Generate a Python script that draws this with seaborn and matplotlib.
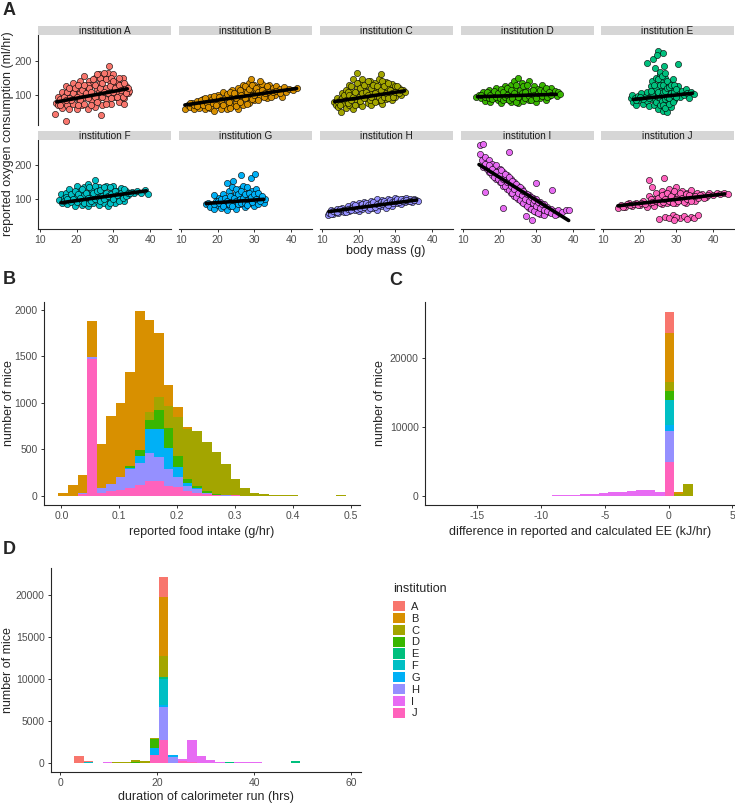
import numpy as np
import pandas as pd
import seaborn as sns
import matplotlib.pyplot as plt
from matplotlib.patches import Patch

institutions = list("ABCDEFGHIJ")
inst_colors = ["#F8766D", "#D89000", "#A3A500", "#39B600", "#00BF7D",
               "#00BFC4", "#00B0F6", "#9590FF", "#E76BF3", "#FF62BC"]

pts_A = [(14.0, 45), (14.5, 78), (15.0, 70), (15.0, 95), (15.5, 88), (16.0, 62), (16.0, 110), (16.5, 80),
         (17.0, 100), (17.0, 125), (17.2, 25), (17.5, 70), (18.0, 90), (18.0, 58), (18.5, 115), (19.0, 135),
         (19.0, 75), (19.5, 100), (20.0, 60), (20.0, 120), (20.5, 88), (21.0, 140), (21.0, 105), (21.5, 70),
         (22.0, 155), (22.0, 95), (22.5, 125), (23.0, 60), (23.0, 110), (23.5, 140), (24.0, 85), (24.0, 130),
         (24.5, 100), (25.0, 150), (25.0, 65), (25.5, 118), (26.0, 90), (26.0, 160), (26.6, 42), (26.5, 135),
         (27.0, 105), (27.0, 70), (27.5, 150), (28.0, 120), (28.0, 88), (28.5, 165), (28.8, 185), (29.0, 100),
         (29.0, 140), (29.5, 75), (30.0, 125), (30.0, 160), (30.5, 95), (31.0, 140), (31.0, 110), (31.5, 80),
         (32.0, 130), (32.0, 100), (32.5, 150), (33.0, 115), (33.0, 90), (33.5, 125), (34.0, 105), (34.2, 112),
         (32.8, 75)]
pts_B = [(11.2, 58), (12.0, 72), (12.5, 65), (13.0, 78), (13.5, 60), (14.0, 70), (14.5, 82), (15.0, 62),
         (15.5, 75), (16.0, 88), (16.5, 58), (17.0, 70), (17.5, 85), (18.0, 95), (18.0, 62), (18.5, 78),
         (19.0, 55), (19.5, 90), (20.0, 70), (20.0, 100), (20.5, 82), (21.0, 60), (21.5, 108), (22.0, 92),
         (22.0, 72), (22.5, 58), (23.0, 100), (23.5, 85), (24.0, 115), (24.0, 68), (24.5, 95), (25.0, 78),
         (25.5, 120), (25.5, 60), (26.0, 105), (26.5, 88), (27.0, 128), (27.0, 70), (27.5, 112), (28.0, 95),
         (28.5, 135), (28.5, 78), (29.0, 145), (29.0, 118), (29.5, 100), (30.0, 130), (30.0, 85), (30.5, 110),
         (31.0, 122), (31.5, 95), (32.0, 132), (32.5, 108), (33.0, 118), (33.5, 90), (34.0, 128), (34.5, 105),
         (35.0, 120), (35.5, 100), (36.0, 125), (36.5, 112), (37.0, 118), (37.5, 95), (38.0, 122), (38.5, 110),
         (39.5, 118), (40.5, 114), (41.5, 120)]
pts_C = [(13.3, 80), (13.8, 70), (14.0, 92), (14.5, 65), (15.0, 85), (15.3, 50), (15.5, 105), (16.0, 75),
         (16.5, 115), (16.5, 62), (17.0, 95), (17.5, 130), (17.5, 72), (18.0, 110), (18.5, 60), (18.5, 145),
         (19.0, 88), (19.5, 120), (19.7, 163), (20.0, 75), (20.0, 135), (20.5, 100), (21.0, 145), (21.0, 68),
         (21.5, 115), (22.0, 90), (22.0, 130), (22.5, 78), (23.0, 140), (23.0, 105), (23.5, 70), (24.0, 120),
         (24.0, 95), (24.5, 135), (25.0, 82), (25.0, 110), (25.5, 145), (26.0, 161), (26.0, 98), (26.5, 125),
         (26.5, 75), (27.0, 110), (27.5, 138), (27.5, 88), (28.0, 120), (28.5, 100), (29.0, 132), (29.0, 85),
         (29.5, 115), (30.0, 125), (30.0, 95), (30.5, 108), (31.0, 120), (31.5, 100), (32.0, 115), (32.5, 108)]
pts_D = [(13.7, 95), (14.5, 100), (15.0, 90), (15.5, 108), (16.0, 84), (16.5, 98), (17.0, 115), (17.5, 80),
         (18.0, 105), (18.5, 92), (19.0, 120), (19.5, 85), (20.0, 110), (20.5, 78), (21.0, 98), (21.5, 125),
         (22.0, 88), (22.5, 112), (23.0, 80), (23.0, 130), (23.5, 100), (24.0, 140), (24.0, 88), (24.5, 118),
         (25.0, 78), (25.0, 148), (25.5, 105), (26.0, 135), (26.0, 92), (26.5, 82), (27.0, 120), (27.5, 100),
         (28.0, 140), (28.0, 86), (28.5, 112), (29.0, 95), (29.5, 125), (30.0, 80), (30.0, 108), (30.5, 118),
         (31.0, 92), (31.5, 128), (32.0, 102), (32.5, 86), (33.0, 115), (33.5, 98), (34.0, 120), (34.5, 105),
         (35.0, 112), (35.5, 96), (36.0, 108), (36.5, 104)]
pts_E = [(17.7, 90), (18.0, 100), (18.3, 80), (18.8, 92), (19.0, 72), (19.5, 98), (20.0, 85), (20.5, 105),
         (21.0, 75), (21.5, 95), (22.0, 110), (22.0, 82), (22.5, 68), (23.0, 100), (23.0, 125), (23.5, 88),
         (23.5, 140), (24.0, 70), (24.0, 112), (24.5, 150), (24.5, 95), (25.0, 60), (25.0, 130), (25.0, 80),
         (25.5, 160), (25.5, 105), (26.0, 72), (26.0, 140), (26.0, 118), (26.5, 90), (26.5, 55), (27.0, 125),
         (27.0, 150), (27.0, 100), (27.5, 50), (27.5, 80), (28.0, 135), (28.0, 110), (28.5, 65), (28.5, 95),
         (29.0, 120), (29.0, 145), (29.5, 85), (30.0, 108), (30.5, 125), (31.0, 95), (31.5, 112), (32.0, 100),
         (32.5, 118), (33.0, 105), (33.5, 92), (34.0, 110), (34.7, 104), (22.0, 194), (23.6, 204), (24.3, 178),
         (25.0, 229), (25.6, 168), (26.3, 223), (26.7, 183), (30.5, 189), (24.8, 215)]
pts_F = [(15.2, 98), (15.8, 115), (16.0, 88), (16.5, 105), (17.0, 120), (17.5, 85), (18.0, 130), (18.0, 100),
         (18.5, 92), (19.0, 115), (19.5, 80), (20.0, 108), (20.0, 140), (20.5, 95), (21.0, 125), (21.5, 82),
         (22.0, 112), (22.0, 135), (22.5, 98), (23.0, 145), (23.0, 80), (23.5, 118), (24.0, 105), (24.0, 130),
         (24.5, 88), (25.0, 158), (25.0, 115), (25.5, 95), (26.0, 135), (26.0, 82), (26.5, 110), (27.0, 125),
         (27.5, 90), (28.0, 140), (28.0, 105), (28.5, 80), (29.0, 120), (29.5, 98), (30.0, 138), (30.0, 110),
         (30.5, 88), (31.0, 125), (31.5, 105), (32.0, 132), (32.5, 115), (33.0, 95), (33.5, 125), (34.0, 112),
         (35.0, 122), (35.5, 118), (36.5, 125), (37.5, 118), (38.5, 126), (39.5, 116)]
pts_G = [(16.9, 86), (17.5, 90), (18.0, 78), (18.9, 113), (19.0, 72), (19.5, 95), (20.0, 82), (20.5, 105),
         (21.0, 75), (21.5, 115), (22.0, 90), (22.5, 147), (22.5, 70), (23.0, 125), (23.0, 100), (23.5, 80),
         (24.0, 135), (24.2, 153), (24.0, 110), (24.5, 92), (25.0, 72), (25.0, 120), (25.5, 100), (26.0, 85),
         (26.3, 172), (26.0, 130), (26.5, 110), (27.0, 95), (27.0, 140), (27.5, 78), (28.0, 118), (28.1, 137),
         (28.5, 100), (29.0, 164), (29.0, 88), (29.5, 125), (30.0, 105), (30.2, 173), (30.0, 80), (30.5, 130),
         (31.0, 95), (31.5, 110), (32.0, 100), (32.5, 90), (33.0, 102)]
pts_H = [(11.6, 54), (12.0, 60), (12.5, 68), (13.0, 58), (13.5, 64), (14.0, 72), (14.5, 60), (15.0, 67),
         (15.5, 75), (16.0, 62), (16.5, 70), (17.0, 80), (17.5, 65), (18.0, 75), (18.5, 85), (19.0, 68),
         (19.5, 78), (20.0, 90), (20.0, 65), (20.5, 82), (21.0, 72), (21.5, 92), (22.0, 78), (22.5, 68),
         (23.0, 88), (23.5, 95), (24.0, 75), (24.5, 85), (25.0, 100), (25.0, 70), (25.5, 90), (26.0, 80),
         (26.5, 98), (27.0, 88), (27.5, 75), (28.0, 102), (28.5, 90), (29.0, 80), (29.5, 95), (30.0, 105),
         (30.5, 88), (31.0, 98), (31.5, 85), (32.0, 100), (32.5, 92), (33.0, 105), (33.5, 95), (34.0, 100),
         (34.5, 92), (35.0, 102), (35.5, 97), (36.3, 96)]
pts_I = [(14.6, 258), (15.5, 261), (14.6, 234), (15.2, 215), (15.9, 122), (15.5, 195), (16.0, 225), (16.5, 205),
         (17.0, 180), (17.0, 215), (17.5, 195), (18.0, 170), (18.0, 205), (18.5, 185), (19.0, 160), (19.0, 200),
         (19.5, 175), (20.0, 150), (20.0, 190), (20.8, 74), (20.5, 165), (21.0, 140), (21.0, 180), (21.5, 155),
         (22.0, 130), (22.0, 170), (22.6, 240), (22.5, 145), (23.0, 120), (23.0, 160), (23.5, 135), (24.0, 110),
         (24.0, 150), (24.5, 125), (25.0, 100), (25.0, 140), (25.5, 115), (26.0, 92), (26.0, 130), (26.5, 105),
         (27.0, 85), (27.1, 51), (27.0, 120), (27.5, 98), (28.0, 75), (28.0, 112), (28.5, 90), (28.9, 40),
         (29.0, 70), (29.8, 147), (29.0, 105), (29.5, 82), (30.0, 62), (30.0, 100), (30.5, 78), (31.0, 58),
         (31.0, 92), (31.5, 72), (32.0, 85), (32.0, 55), (32.5, 68), (33.0, 78), (33.5, 62), (34.3, 127),
         (34.0, 72), (35.0, 65), (35.5, 58), (36.0, 70), (37.0, 62), (38.0, 68), (38.8, 69)]
pts_J = [(14.0, 75), (15.0, 82), (16.0, 78), (17.0, 88), (18.0, 80), (19.0, 90), (20.0, 84), (21.0, 95),
         (22.0, 78), (22.6, 156), (22.5, 110), (23.0, 90), (23.5, 135), (24.0, 100), (24.0, 80), (24.5, 120),
         (25.0, 92), (25.3, 42), (25.5, 108), (26.0, 85), (26.0, 125), (26.5, 98), (26.7, 164), (27.0, 115),
         (27.0, 48), (27.5, 88), (28.0, 130), (28.0, 105), (28.5, 92), (29.0, 118), (29.0, 55), (29.5, 100),
         (30.0, 135), (30.0, 88), (30.5, 112), (31.0, 98), (31.0, 45), (31.5, 125), (32.0, 105), (32.0, 52),
         (32.5, 90), (33.0, 118), (33.5, 100), (34.0, 128), (34.0, 48), (34.7, 45), (34.5, 110), (35.0, 95),
         (35.5, 120), (36.0, 105), (36.0, 55), (37.0, 115), (38.0, 108), (39.0, 118), (40.0, 112), (41.0, 120),
         (42.0, 115), (43.0, 118), (44.0, 116)]

# dense cores of the clouds
core_A = [(15.5, 72), (16.5, 95), (17.5, 110), (18.5, 85), (19.0, 105), (19.5, 120), (20.0, 95), (20.5, 130),
          (21.0, 85), (21.5, 115), (22.0, 75), (22.5, 105), (23.0, 130), (23.0, 90), (23.5, 120), (24.0, 70),
          (24.0, 110), (24.5, 145), (25.0, 95), (25.0, 130), (25.5, 80), (26.0, 110), (26.5, 150), (26.5, 120),
          (27.0, 95), (27.0, 135), (27.5, 110), (28.0, 75), (28.0, 145), (28.5, 105), (29.0, 125), (29.5, 150),
          (29.5, 90), (30.0, 110), (30.0, 140), (30.5, 120), (31.0, 95), (31.5, 130), (31.5, 150), (32.0, 115),
          (32.5, 95), (33.0, 135), (33.5, 105), (34.0, 120), (22.0, 130), (18.0, 120), (17.0, 85), (20.5, 70),
          (25.5, 160), (27.5, 165)]
core_B = [(12.5, 78), (13.5, 72), (14.5, 68), (15.5, 85), (16.0, 70), (16.5, 92), (17.0, 78), (17.5, 65),
          (18.5, 88), (19.0, 98), (19.5, 70), (20.5, 95), (21.0, 85), (21.5, 70), (22.5, 102), (23.0, 80),
          (23.5, 110), (23.5, 62), (24.5, 105), (25.0, 90), (25.0, 68), (26.0, 115), (26.0, 80), (26.5, 100),
          (27.5, 90), (27.5, 125), (28.0, 108), (28.0, 75), (28.5, 118), (29.5, 130), (29.5, 88), (30.0, 100),
          (30.5, 120), (31.0, 108), (31.0, 85), (31.5, 140), (32.0, 115), (32.5, 95), (33.0, 105), (33.5, 125),
          (34.0, 110), (34.5, 95), (35.0, 108), (36.0, 112), (37.0, 105)]
core_C = [(14.5, 80), (15.0, 70), (15.5, 92), (16.0, 100), (16.5, 85), (17.0, 78), (17.0, 110), (17.5, 100),
          (18.0, 85), (18.0, 125), (18.5, 95), (19.0, 110), (19.0, 70), (19.5, 135), (20.0, 95), (20.5, 120),
          (20.5, 82), (21.0, 105), (21.5, 130), (21.5, 90), (22.0, 110), (22.5, 140), (22.5, 100), (23.0, 85),
          (23.5, 120), (23.5, 95), (24.0, 130), (24.5, 105), (24.5, 80), (25.0, 125), (25.5, 95), (26.0, 115),
          (26.0, 85), (26.5, 140), (27.0, 95), (27.0, 125), (27.5, 105), (28.0, 90), (28.0, 135), (28.5, 115),
          (29.0, 105), (29.5, 95), (30.0, 110), (30.5, 125), (31.0, 105), (31.5, 115)]
core_D = [(15.0, 100), (16.0, 95), (16.5, 108), (17.0, 90), (17.5, 100), (18.0, 88), (18.5, 112), (19.0, 95),
          (19.5, 105), (20.0, 90), (20.5, 118), (21.0, 85), (21.0, 110), (21.5, 95), (22.0, 120), (22.0, 100),
          (22.5, 85), (23.0, 115), (23.5, 92), (24.0, 105), (24.5, 80), (24.5, 128), (25.0, 95), (25.5, 115),
          (26.0, 105), (26.5, 125), (27.0, 90), (27.0, 110), (27.5, 130), (28.0, 98), (28.5, 85), (29.0, 115),
          (29.5, 100), (30.0, 92), (30.5, 105), (31.0, 115), (31.5, 98), (32.0, 112), (32.5, 120), (33.0, 95),
          (33.5, 108), (34.0, 100)]
core_E = [(24.0, 90), (24.5, 80), (24.5, 120), (25.0, 95), (25.0, 145), (25.0, 110), (25.5, 70), (25.5, 90),
          (25.5, 130), (26.0, 100), (26.0, 155), (26.0, 82), (26.5, 110), (26.5, 130), (26.5, 70), (27.0, 88),
          (27.0, 112), (27.0, 62), (27.5, 95), (27.5, 120), (27.5, 140), (28.0, 90), (28.0, 75), (28.0, 122),
          (28.5, 105), (28.5, 130), (29.0, 100), (29.0, 80), (29.5, 110), (29.5, 130), (30.0, 95), (30.0, 118),
          (23.5, 100), (23.0, 112), (22.5, 90), (21.0, 88), (20.0, 95), (19.0, 85), (24.0, 130), (26.8, 165)]
core_F = [(16.5, 95), (17.0, 108), (17.5, 100), (18.5, 115), (19.0, 100), (19.5, 125), (20.0, 92), (20.5, 115),
          (21.0, 105), (21.5, 130), (21.5, 95), (22.0, 88), (22.5, 120), (23.0, 105), (23.5, 90), (23.5, 135),
          (24.0, 95), (24.5, 120), (25.0, 100), (25.0, 138), (25.5, 125), (26.0, 105), (26.5, 95), (26.5, 128),
          (27.0, 110), (27.5, 135), (27.5, 100), (28.0, 120), (28.5, 110), (29.0, 90), (29.0, 135), (29.5, 115),
          (30.0, 100), (30.5, 125), (31.0, 112), (31.5, 95), (32.0, 120), (32.5, 105), (33.0, 130), (33.5, 110),
          (34.0, 120), (34.5, 118)]
core_G = [(19.0, 85), (20.0, 95), (20.5, 88), (21.0, 100), (21.5, 80), (22.0, 105), (22.5, 95), (23.0, 85),
          (23.5, 110), (24.0, 80), (24.5, 105), (25.0, 95), (25.0, 130), (25.5, 85), (25.5, 115), (26.0, 100),
          (26.5, 90), (26.5, 125), (27.0, 105), (27.5, 115), (27.5, 90), (28.0, 98), (28.0, 82), (28.5, 120),
          (29.0, 108), (29.5, 92), (30.0, 115), (30.5, 100), (31.0, 120), (31.0, 85), (31.5, 95), (32.0, 110)]
core_H = [(12.5, 58), (13.0, 66), (14.0, 62), (15.0, 72), (16.0, 70), (16.5, 64), (17.0, 72), (18.0, 68),
          (18.5, 78), (19.0, 82), (19.5, 72), (20.5, 75), (21.0, 85), (21.5, 78), (22.0, 88), (22.5, 82),
          (23.0, 75), (23.5, 85), (24.0, 92), (24.5, 78), (25.0, 85), (25.5, 82), (26.0, 92), (26.5, 85),
          (27.0, 95), (27.5, 88), (28.0, 82), (28.5, 98), (29.0, 92), (29.5, 88), (30.0, 95), (30.5, 100),
          (31.0, 92), (31.5, 102), (32.0, 95), (33.0, 98), (34.0, 95), (35.0, 98)]
core_I = [(16.0, 205), (16.5, 190), (17.0, 200), (17.5, 180), (18.0, 190), (18.5, 165), (19.0, 180), (19.5, 160),
          (20.0, 170), (20.5, 150), (20.5, 185), (21.0, 160), (21.5, 140), (21.5, 175), (22.0, 150), (22.5, 128),
          (22.5, 165), (23.0, 140), (23.5, 118), (23.5, 155), (24.0, 130), (24.5, 108), (24.5, 145), (25.0, 120),
          (25.5, 98), (25.5, 135), (26.0, 112), (26.5, 88), (26.5, 125), (27.0, 102), (27.5, 80), (27.5, 115),
          (28.0, 95), (28.5, 72), (28.5, 108), (29.0, 88), (29.5, 65), (29.5, 98), (30.0, 80), (30.5, 92),
          (30.5, 60), (31.0, 75), (31.5, 85), (32.0, 68), (33.0, 65), (34.0, 60), (35.0, 55)]
core_J = [(15.5, 78), (16.5, 85), (17.5, 82), (18.5, 85), (19.5, 82), (20.5, 90), (21.5, 85), (23.0, 100),
          (23.5, 92), (24.5, 95), (25.0, 105), (25.5, 88), (26.0, 112), (26.5, 92), (27.0, 100), (27.5, 118),
          (28.0, 95), (28.5, 110), (29.0, 90), (29.5, 125), (30.0, 100), (30.5, 95), (31.0, 118), (31.5, 105),
          (32.0, 92), (32.5, 115), (33.0, 100), (33.5, 112), (34.0, 95), (35.0, 110), (36.5, 112), (37.5, 105),
          (38.5, 112), (30.0, 48), (28.0, 45), (33.0, 42), (29.5, 40)]

scatter_pts = [pts_A + core_A, pts_B + core_B, pts_C + core_C, pts_D + core_D, pts_E + core_E,
               pts_F + core_F, pts_G + core_G, pts_H + core_H, pts_I + core_I, pts_J + core_J]

# linear fits (start/end of each black line)
fit_mass0 = [14.6, 11.1, 13.5, 14.0, 18.3, 15.8, 16.9, 11.9, 14.4, 14.1]
fit_vo2_0 = [80, 71, 81, 95, 87, 90, 88, 64, 202, 81]
fit_mass1 = [33.8, 41.5, 32.5, 35.4, 34.4, 39.0, 32.6, 35.8, 38.8, 43.2]
fit_vo2_1 = [118, 119, 112, 102, 105, 125, 100, 98, 38, 116]

# panel B: food intake histogram, 30 bins
food_start, food_width = -0.0052, 0.01655
food_counts = {
    "A": [0] * 30,
    "B": [35, 114, 190, 384, 464, 736, 793, 1002, 1491, 986, 691, 221, 107, 28] + [0] * 16,
    "C": [0] * 9 + [81, 142, 238, 416, 534, 594, 530, 455, 335, 170, 80, 34, 22, 12, 8, 5, 3, 2, 1, 2, 8],
    "D": [0, 0, 0, 0, 0, 0, 0, 30, 64, 107, 199, 214, 117, 36, 25, 15, 5, 3] + [0] * 12,
    "E": [0] * 30,
    "F": [0] * 30,
    "G": [0, 0, 0, 0, 0, 0, 0, 10, 71, 249, 303, 224, 107, 35, 11, 5, 3] + [0] * 13,
    "H": [0, 0, 10, 25, 60, 79, 143, 200, 239, 306, 259, 185, 107, 54, 43, 15, 5, 5, 4] + [0] * 11,
    "I": [0] * 30,
    "J": [0, 0, 20, 1470, 28, 46, 60, 85, 117, 157, 157, 107, 96, 53, 28, 15, 5, 2, 4] + [0] * 11,
}

# panel C: difference in EE, 30 bins
ee_start, ee_width = -18.0, 0.737
ee_counts = {
    "A": [0] * 24 + [3140, 0, 0, 0, 0, 0],
    "B": [0] * 24 + [7150, 200, 0, 0, 0, 0],
    "C": [0] * 24 + [1300, 350, 1690, 40, 5, 5],
    "D": [0] * 24 + [1210, 0, 0, 0, 0, 0],
    "E": [0] * 30,
    "F": [0] * 24 + [3620, 0, 0, 0, 0, 0],
    "G": [0] * 24 + [970, 0, 0, 0, 0, 0],
    "H": [0] * 24 + [4490, 0, 0, 0, 0, 0],
    "I": [3, 3, 3, 3, 5, 5, 5, 8, 8, 10, 15, 60, 100, 140, 190, 250, 330, 420, 530, 650, 760, 930, 850, 630,
          0, 0, 0, 0, 0, 0],
    "J": [0] * 24 + [4930, 0, 0, 0, 0, 0],
}

# panel D: duration of run, 30 bins
dur_start, dur_width = 0.985, 1.937
dur_counts = {
    "A": [0, 850, 100, 0, 0, 0, 0, 0, 0, 0, 2310] + [0] * 19,
    "B": [0, 0, 0, 0, 0, 0, 0, 0, 50, 0, 7070] + [0] * 19,
    "C": [0, 0, 0, 0, 0, 50, 120, 250, 150, 80, 2590] + [0] * 19,
    "D": [0, 0, 0, 0, 0, 0, 0, 100, 0, 1110, 0] + [0] * 19,
    "E": [0] * 10 + [240, 0, 0, 0, 0, 0, 0, 80, 0, 0, 0, 0, 0, 0, 150, 0, 0, 0, 0, 0],
    "F": [0, 0, 60, 0, 0, 0, 0, 0, 0, 0, 2990, 0, 0, 0, 0, 0, 60] + [0] * 13,
    "G": [0] * 9 + [800, 280, 260] + [0] * 18,
    "H": [0] * 10 + [3920, 700] + [0] * 18,
    "I": [0, 0, 0, 0, 60, 0, 0, 0, 0, 0, 0, 0, 200, 2600, 800, 280, 60, 0, 40, 40, 40, 20, 20, 20,
          0, 0, 0, 0, 5, 5],
    "J": [0] * 9 + [960, 2750, 0, 200, 70] + [0] * 16,
}

sns.set_style("ticks")
plt.rcParams["font.family"] = ["Liberation Sans", "DejaVu Sans"]
plt.rcParams["axes.unicode_minus"] = False
plt.rcParams["axes.linewidth"] = 0.8
plt.rcParams["xtick.color"] = "#333333"
plt.rcParams["ytick.color"] = "#333333"
plt.rcParams["xtick.labelcolor"] = "#4D4D4D"
plt.rcParams["ytick.labelcolor"] = "#4D4D4D"
plt.rcParams["xtick.major.size"] = 2.5
plt.rcParams["ytick.major.size"] = 2.5
plt.rcParams["xtick.major.width"] = 0.7
plt.rcParams["ytick.major.width"] = 0.7

W, H = 735, 805
fig = plt.figure(figsize=(W / 100, H / 100), dpi=100)


def add_ax(left, top, right, bottom):
    return fig.add_axes([left / W, 1 - bottom / H, (right - left) / W, (bottom - top) / H])


def style(ax):
    sns.despine(ax=ax)
    ax.tick_params(labelsize=7.5, pad=2)


def place_labels(ax, left, right, top, bottom, ylab_x, xlab_y):
    # put axis titles at given pixel positions
    ax.yaxis.set_label_coords((ylab_x - left) / (right - left), 0.5)
    ax.xaxis.set_label_coords(0.5, (bottom - xlab_y) / (bottom - top))
    ax.xaxis.label.set_va("center")
    ax.yaxis.label.set_va("center")


# ---- panel A ----
col_left = [38, 179, 320, 461, 601]
row_top = [35, 140]
row_bot = [125, 229]
strip_h = 8.5
for i, inst in enumerate(institutions):
    r, c = divmod(i, 5)
    l, t, b = col_left[c], row_top[r], row_bot[r]
    rt = l + 133
    ax = add_ax(l, t, rt, b)
    sax = add_ax(l, t - strip_h, rt, t)
    sax.set_facecolor("#D6D6D6")
    sax.set_xticks([])
    sax.set_yticks([])
    for sp in sax.spines.values():
        sp.set_visible(False)
    sax.text(0.5, 0.45, f"institution {inst}", ha="center", va="center", fontsize=7.2, color="#1A1A1A",
             transform=sax.transAxes)

    df = pd.DataFrame(scatter_pts[i], columns=["mass", "vo2"])
    sns.scatterplot(data=df, x="mass", y="vo2", color=inst_colors[i], edgecolor="black",
                    linewidth=0.4, s=20, ax=ax, legend=False, zorder=2)
    line = pd.DataFrame({"mass": [fit_mass0[i], fit_mass1[i]], "vo2": [fit_vo2_0[i], fit_vo2_1[i]]})
    sns.lineplot(data=line, x="mass", y="vo2", color="black", linewidth=2.6, ax=ax, zorder=3)
    ax.set_xlim(9.5, 45.7)
    ax.set_ylim(13, 274)
    ax.set_xticks([10, 20, 30, 40])
    ax.set_yticks([100, 200])
    ax.set_xlabel("")
    ax.set_ylabel("")
    style(ax)
    if r == 0:
        ax.spines["bottom"].set_visible(False)
        ax.tick_params(axis="x", bottom=False, labelbottom=False)
    if c > 0:
        ax.spines["left"].set_visible(False)
        ax.tick_params(axis="y", left=False, labelleft=False)

fig.text(8 / W, 1 - 134 / H, "reported oxygen consumption (ml/hr)", rotation=90, ha="center", va="center",
         fontsize=9)
fig.text(386 / W, 1 - 251 / H, "body mass (g)", ha="center", va="center", fontsize=9)


def stacked_hist(ax, counts, start, width):
    edges = start + width * np.arange(31)
    centers = (edges[:-1] + edges[1:]) / 2
    rows = []
    for inst in institutions:
        for x, n in zip(centers, counts[inst]):
            rows.append((inst, x, n))
    df = pd.DataFrame(rows, columns=["institution", "value", "count"])
    sns.histplot(data=df, x="value", weights="count", hue="institution", hue_order=institutions,
                 palette=inst_colors, multiple="stack", bins=edges.tolist(), alpha=1, linewidth=0,
                 legend=False, ax=ax)


# ---- panel B ----
axB = add_ax(44, 302, 360, 505)
stacked_hist(axB, food_counts, food_start, food_width)
axB.set_xlim(-0.030, 0.516)
axB.set_ylim(-99, 2081)
axB.set_xticks([0.0, 0.1, 0.2, 0.3, 0.4, 0.5])
axB.set_xticklabels(["0.0", "0.1", "0.2", "0.3", "0.4", "0.5"])
axB.set_yticks([0, 500, 1000, 1500, 2000])
axB.set_xlabel("reported food intake (g/hr)", fontsize=9)
axB.set_ylabel("number of mice", fontsize=9)
style(axB)
place_labels(axB, 44, 360, 302, 505, 9, 532)

# ---- panel C ----
axC = add_ax(425, 302, 735, 505)
stacked_hist(axC, ee_counts, ee_start, ee_width)
axC.set_xlim(-19.1, 5.2)
axC.set_ylim(-1300, 28200)
axC.set_xticks([-15, -10, -5, 0, 5])
axC.set_yticks([0, 10000, 20000])
axC.set_xlabel("difference in reported and calculated EE (kJ/hr)", fontsize=9)
axC.set_ylabel("number of mice", fontsize=9)
style(axC)
place_labels(axC, 425, 735, 302, 505, 380, 532)

# ---- panel D ----
axD = add_ax(51, 568, 361, 772)
stacked_hist(axD, dur_counts, dur_start, dur_width)
axD.set_xlim(-1.92, 62.0)
axD.set_ylim(-1110, 23250)
axD.set_xticks([0, 20, 40, 60])
axD.set_yticks([0, 5000, 10000, 15000, 20000])
axD.set_xlabel("duration of calorimeter run (hrs)", fontsize=9)
axD.set_ylabel("number of mice", fontsize=9)
style(axD)
place_labels(axD, 51, 361, 568, 772, 8, 797)

fig.text(393 / W, 1 - 589 / H, "institution", fontsize=9, ha="left", va="center")
handles = [Patch(facecolor=c, edgecolor="none", label=l) for l, c in zip(institutions, inst_colors)]
fig.legend(handles=handles, loc="upper left", bbox_to_anchor=(393 / W, 1 - 601 / H),
           frameon=False, fontsize=8, handlelength=1.05, handleheight=1.05,
           labelspacing=0.08, handletextpad=0.6, borderaxespad=0, borderpad=0)

for lab, x, y in [("A", 3, 2), ("B", 3, 271), ("C", 389, 272), ("D", 3, 541)]:
    fig.text(x / W, 1 - y / H, lab, fontsize=13, fontweight="bold", ha="left", va="top")

fig.savefig("out.png", dpi=100)
